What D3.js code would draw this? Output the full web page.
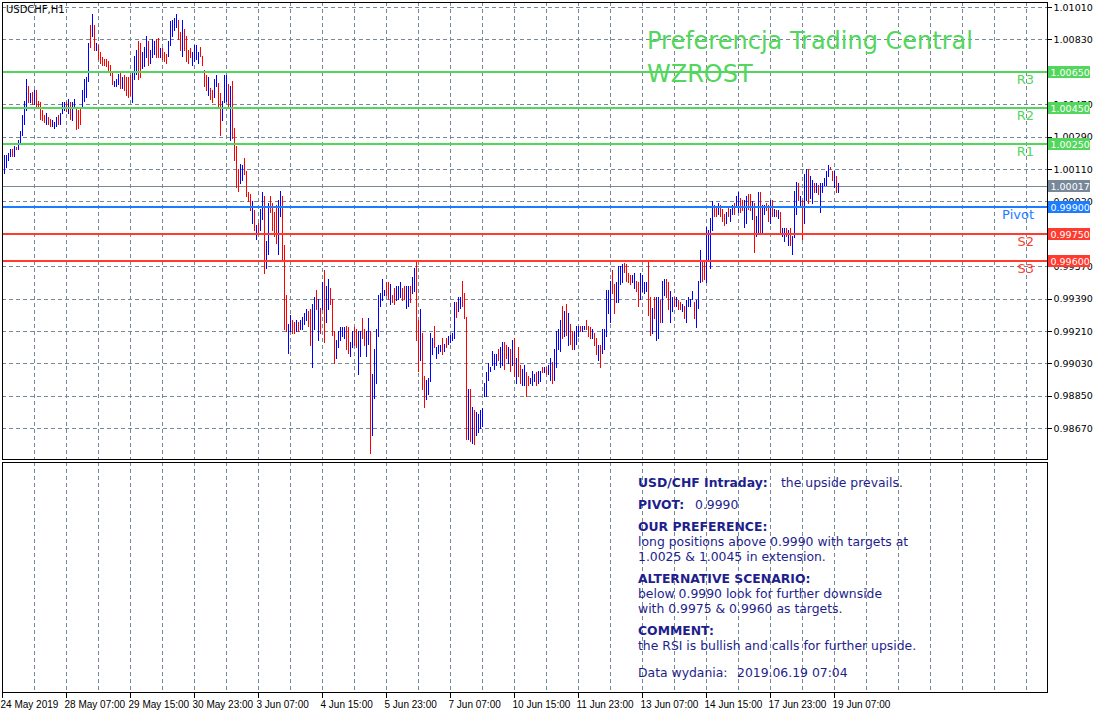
<!DOCTYPE html>
<html><head>
<meta charset="utf-8">
<title>USDCHF H1</title>
<script src="https://cdn.jsdelivr.net/npm/d3@7/dist/d3.min.js"></script>
<style>
  body { margin: 0; background: #fff; }
  svg { display: block; }
  text { font-family: "DejaVu Sans", Verdana, sans-serif; }
  .grid line { stroke: #778899; stroke-dasharray: 4,3; shape-rendering: crispEdges; }
  .axis text { font-size: 9.5px; fill: #000; }
  .axis.time text { font-family: "Liberation Sans", Arial, sans-serif; font-size: 10px; }
  .axis line { stroke: #000; shape-rendering: crispEdges; }
  .axis .domain { display: none; }
</style>
</head>
<body>
<svg id="chart" width="1100" height="713"></svg>

<script>
// hourly bars, 24 May -> 19 Jun 2019, prices in pips (1/10000)
const highPips = [
  10019,10019,10020,10022,10022,10024,10023,10027,10032,10041,
  10049,10061,10057,10053,10054,10055,10055,10049,10048,10044,
  10041,10042,10040,10039,10038,10037,10040,10041,10042,10048,
  10048,10048,10050,10048,10048,10050,10045,10044,10045,10055,
  10061,10062,10081,10091,10097,10091,10081,10080,10076,10073,
  10072,10072,10071,10069,10065,10060,10061,10064,10065,10062,
  10063,10062,10062,10063,10065,10074,10077,10082,10081,10076,
  10079,10085,10082,10077,10083,10082,10083,10084,10078,10078,
  10076,10075,10082,10093,10094,10095,10097,10094,10087,10094,
  10089,10085,10077,10078,10076,10080,10080,10076,10079,10074,
  10066,10063,10062,10056,10055,10061,10063,
  10059,10053,10049,10063,10063,10058,10057,10060,10034,10024,
  10011,10014,10013,10017,10010,9998,9997,9993,9988,9980,
  9981,9989,9998,9996,9971,9992,9996,9992,9987,9991,
  9994,9999,9996,9969,9941,9925,9930,9927,9926,9927,
  9926,9927,9929,9931,9933,9932,9933,9936,9940,9944,
  9939,9934,9948,9955,9946,9950,9945,9939,9921,9916,
  9921,9923,9923,9923,9924,9923,9915,9921,9923,9922,
  9921,9921,9928,9922,9921,9928,9921,9897,9911,9922,
  9941,9942,9950,9944,9948,9948,9947,9941,9945,9946,
  9946,9948,9945,9946,9946,9946,9946,9951,9956,9960,9927,
  9933,9920,9896,9894,9895,9920,9917,9924,9912,9913,
  9913,9917,9914,9917,9918,9919,9920,9937,9937,9940,
  9940,9949,9942,9929,9889,9889,9879,9877,9876,9875,
  9877,9878,9892,9898,9903,9901,9910,9908,9908,9911,
  9912,9915,9915,9913,9912,9911,9916,9917,9906,9912,
  9902,9900,9902,9898,9896,9895,9899,9897,9898,9899,
  9899,9901,9901,9901,9902,9906,9904,9911,9921,9922,
  9927,9935,9932,9936,9931,9925,9921,9921,9924,9924,
  9924,9924,9924,9927,9924,9923,9922,9920,9917,9913,
  9913,9922,9922,9944,9944,9949,9955,9947,9948,9957,
  9957,9958,9959,
  9958,9953,9952,9952,9953,9949,9948,9953,9952,9948,
  9948,9960,9940,9934,9940,9940,9940,9938,9949,9950,
  9950,9948,9943,9940,9940,9940,9938,9937,9936,9935,
  9938,9940,9939,9943,9937,9938,9949,9966,9960,9960,
  9979,9977,9984,9993,9991,9990,9992,9991,9989,9986,
  9987,9990,9989,9991,9992,9996,9998,9995,9994,9994,
  9996,9997,9997,9993,9992,9985,9998,9998,9991,9991,
  9992,9991,9994,9994,9989,9988,9988,9987,9978,9978,
  9978,9977,9978,9974,9999,10004,10003,9996,9994,10008,
  10011,10011,10007,10005,10003,10003,10002,10003,10003,10006,
  10010,10013,10012,10010,10010,10007,10003
];
const lowPips = [
  10009,10012,10016,10018,10018,10018,10022,10022,10026,10030,
  10036,10044,10048,10048,10047,10047,10046,10046,10039,10038,
  10037,10036,10036,10035,10035,10034,10035,10036,10036,10042,
  10044,10043,10042,10039,10038,10045,10033,10034,10036,10045,
  10049,10051,10060,10079,10085,10077,10077,10072,10070,10069,
  10069,10068,10065,10063,10058,10057,10057,10058,10056,10056,
  10055,10052,10051,10052,10048,10061,10064,10061,10062,10067,
  10068,10073,10069,10070,10073,10075,10073,10073,10073,10072,
  10071,10070,10074,10080,10085,10088,10090,10083,10077,10074,
  10077,10071,10070,10073,10069,10071,10072,10070,10074,10069,
  10057,10055,10052,10050,10048,10051,10057,
  10046,10030,10038,10048,10049,10046,10027,10028,10016,10001,
  9999,10003,10005,10008,9996,9993,9988,9981,9977,9972,
  9975,9977,9983,9953,9956,9964,9987,9977,9974,9970,
  9964,9985,9961,9922,9921,9909,9921,9920,9920,9921,
  9921,9922,9922,9925,9927,9924,9913,9901,9922,9933,
  9916,9920,9933,9915,9926,9933,9936,9919,9903,9906,
  9912,9916,9918,9917,9911,9909,9907,9912,9913,9912,
  9897,9907,9917,9913,9907,9914,9853,9863,9884,9892,
  9918,9935,9938,9941,9941,9939,9936,9937,9936,9938,
  9939,9940,9938,9939,9934,9935,9937,9942,9943,9916,9899,
  9905,9889,9879,9883,9886,9893,9908,9912,9906,9909,
  9910,9908,9910,9912,9914,9915,9916,9917,9929,9932,
  9934,9935,9928,9861,9861,9860,9859,9858,9863,9865,
  9867,9868,9885,9885,9894,9899,9902,9900,9902,9905,
  9901,9902,9900,9906,9903,9899,9902,9896,9892,9896,
  9892,9891,9891,9885,9891,9892,9891,9893,9891,9892,
  9893,9898,9898,9897,9897,9894,9892,9894,9901,9911,
  9910,9917,9918,9919,9913,9914,9911,9911,9914,9918,
  9921,9921,9922,9922,9918,9917,9917,9913,9908,9905,
  9901,9909,9911,9918,9931,9926,9942,9931,9937,9937,
  9947,9948,9954,
  9949,9948,9947,9948,9945,9943,9935,9939,9943,9942,
  9943,9930,9919,9920,9928,9916,9917,9926,9926,9941,
  9940,9933,9926,9932,9935,9935,9933,9933,9932,9928,
  9926,9935,9935,9939,9928,9923,9934,9948,9949,9950,
  9948,9960,9956,9977,9985,9985,9986,9985,9982,9980,
  9981,9985,9982,9986,9986,9990,9987,9987,9988,9979,
  9981,9989,9988,9983,9965,9974,9976,9976,9975,9986,
  9988,9982,9981,9985,9985,9985,9984,9975,9974,9971,
  9974,9969,9969,9964,9973,9986,9994,9990,9972,9981,
  9994,9992,9995,9992,9998,9998,9997,9987,9998,10002,
  10002,10007,10011,10005,10001,9998,9998
];
// b = bull bar (blue), r = bear bar (red)
const barDir = (
  "bbbbrbrbbb" + "bbrbrbrrrr" + "rbrrbbbrbb" + "brbrbbrrrb" + "bbbrbrbrrr" +
  "rrrrrbbbrb" + "rrrrbbbrrb" + "bbrbbbrrbr" + "rrbbbbbrrb" + "rrrrbbbbrr" +
  "rrbrrbb" +
  "rrbbbrbrrr" + "rbbrrrrbrb" + "rbbrbbrrrr" + "bbrrrbbrrb" + "rbbbbrrbbr" +
  "brbrbbrrrb" + "bbbbrrbbrr" + "bbrrbbrbbb" + "bbbbrrbrrb" + "bbrrbbrbbrr" +
  "brrbbbbrbb" + "brbrbbbbrb" + "brrrbrbrbb" + "bbbbbbbbbr" + "bbrrbrbrbr" +
  "rbbrrbbbrb" + "brbrbbrbbb" + "brbrbrrbbb" + "rbbrrrbrrb" + "rbbbbbrrbb" +
  "bbr" +
  "rrrbbrrbbb" + "brrbrbbrbb" + "rrbbrbrrbr" + "bbbbrbbbrr" + "bbbbrrbrrr" +
  "brbbrbbrrb" + "brrbrbbrbb" + "rrbrbrbrbb" + "rbrbbbrbrb" + "brbbrbrbbb" +
  "bbrrbrb"
).split("");

const priceTicks = [1.0101, 1.0083, 1.0065, 1.0047, 1.0029, 1.0011, 0.9993,
                    0.9975, 0.9957, 0.9939, 0.9921, 0.9903, 0.9885, 0.9867];
const timeLabels = ["24 May 2019", "28 May 07:00", "29 May 15:00", "30 May 23:00",
  "3 Jun 07:00", "4 Jun 15:00", "5 Jun 23:00", "7 Jun 07:00", "10 Jun 15:00",
  "11 Jun 23:00", "13 Jun 07:00", "14 Jun 15:00", "17 Jun 23:00", "19 Jun 07:00"];

const levelNames = ["R3", "R2", "R1", "Pivot", "S2", "S3"];
const levelValues = [1.0065, 1.0045, 1.0025, 0.9990, 0.9975, 0.9960];
const levelColors = ["#52d65c", "#52d65c", "#52d65c", "#1a7cff", "#ff3b30", "#ff3b30"];
const lastPrice = 1.00017;

const titleLines = ["Preferencja Trading Central", "WZROST"];
const noteHeads = ["USD/CHF Intraday:", "PIVOT:", "OUR PREFERENCE:", "ALTERNATIVE SCENARIO:", "COMMENT:"];
const noteTexts = [
  ["the upside prevails."],
  ["0.9990"],
  ["long positions above 0.9990 with targets at", "1.0025 & 1.0045 in extension."],
  ["below 0.9990 look for further downside", "with 0.9975 & 0.9960 as targets."],
  ["the RSI is bullish and calls for further upside."]
];
const issueLabel = "Data wydania:";
const issueDate = "2019.06.19 07:04";

// ---- layout
const svg = d3.select("#chart");
const main = {left: 2, right: 1047, top: 2, bottom: 459};
const sub = {top: 462, bottom: 692};

// one bar every 2 px
const x = d3.scaleLinear().domain([0, 521.5]).range([4, 1047]);
const y = d3.scaleLinear().domain([0.984994, 1.010383]).range([main.bottom, main.top]);
const crisp = v => Math.round(v) + 0.5;

svg.append("defs").append("clipPath").attr("id", "clipMain")
   .append("rect").attr("x", main.left).attr("y", main.top)
   .attr("width", main.right - main.left).attr("height", main.bottom - main.top);

// gridlines: vertical every 16 bars, horizontal at price ticks
const gridIdx = d3.range(15, 522, 16);
const grid = svg.append("g").attr("class", "grid");
[[main.top, main.bottom], [sub.top, sub.bottom]].forEach(([t, b]) => {
  grid.append("g").selectAll("line").data(gridIdx).join("line")
      .attr("x1", d => crisp(x(d))).attr("x2", d => crisp(x(d)))
      .attr("y1", t).attr("y2", b);
});
grid.append("g").selectAll("line").data(priceTicks).join("line")
    .attr("x1", main.left).attr("x2", main.right)
    .attr("y1", d => crisp(y(d))).attr("y2", d => crisp(y(d)));

// last price line
svg.append("line")
   .attr("x1", main.left).attr("x2", main.right)
   .attr("y1", crisp(y(lastPrice))).attr("y2", crisp(y(lastPrice)))
   .attr("stroke", "#778899").attr("shape-rendering", "crispEdges");

// title
const title = svg.append("g").attr("fill", "#52d65c").style("font-size", "24px");
titleLines.forEach((t, i) => {
  title.append("text").attr("x", 647).attr("y", 49 + i * 33).text(t);
});

// bars
const bars = highPips.map((h, i) => ({i: i, high: h / 10000, low: lowPips[i] / 10000, up: barDir[i] === "b"}));
svg.append("g").attr("clip-path", "url(#clipMain)")
   .selectAll("line").data(bars).join("line")
   .attr("x1", d => crisp(x(d.i))).attr("x2", d => crisp(x(d.i)))
   .attr("y1", d => Math.round(y(d.high)))
   .attr("y2", d => Math.round(y(d.low)) + 1)
   .attr("stroke", d => d.up ? "#0000ff" : "#ff0000")
   .attr("shape-rendering", "crispEdges");

// support / resistance levels
const levels = levelNames.map((n, i) => ({name: n, value: levelValues[i], color: levelColors[i]}));
svg.append("g").selectAll("line").data(levels).join("line")
   .attr("x1", main.left).attr("x2", main.right)
   .attr("y1", d => Math.round(y(d.value))).attr("y2", d => Math.round(y(d.value)))
   .attr("stroke", d => d.color).attr("stroke-width", 2);
svg.append("g").selectAll("text").data(levels).join("text")
   .attr("x", 1034).attr("y", d => Math.round(y(d.value)) + 12)
   .attr("text-anchor", "end")
   .attr("fill", d => d.color)
   .style("font-size", "13px")
   .text(d => d.name);

// frames
svg.append("rect").attr("x", main.left + 0.5).attr("y", main.top + 0.5)
   .attr("width", main.right - main.left).attr("height", main.bottom - main.top)
   .attr("fill", "none").attr("stroke", "#000").attr("shape-rendering", "crispEdges");
svg.append("rect").attr("x", main.left + 0.5).attr("y", sub.top + 0.5)
   .attr("width", main.right - main.left).attr("height", sub.bottom - sub.top)
   .attr("fill", "none").attr("stroke", "#000").attr("shape-rendering", "crispEdges");

// right price axis (labels sitting exactly on a level are hidden by its box)
svg.append("g").attr("class", "axis")
   .attr("transform", "translate(" + (main.right + 0.5) + ",0)")
   .call(d3.axisRight(y).tickValues(priceTicks).tickSize(4).tickPadding(2).tickFormat(d3.format(".5f")))
   .call(g => g.selectAll(".tick text").filter(d => levelValues.includes(d)).remove());

// bottom time axis, one label every 32 bars
const timeIdx = timeLabels.map((t, j) => 32 * j - 1);
svg.append("g").attr("class", "axis time")
   .attr("transform", "translate(0," + (sub.bottom + 0.5) + ")")
   .call(d3.axisBottom(x).tickValues(timeIdx).tickSize(5).tickPadding(3)
           .tickFormat((d, j) => timeLabels[j]))
   .call(g => g.selectAll(".tick line").attr("transform", "translate(-0.5,0)"))
   .call(g => g.selectAll(".tick text").attr("text-anchor", "start").attr("dx", -2));

// price boxes on the axis
const boxes = levels.concat([{name: "last", value: lastPrice, color: "#778899"}]);
const boxG = svg.append("g").selectAll("g").data(boxes).join("g")
   .attr("transform", d => "translate(" + (main.right + 1) + "," + Math.round(y(d.value)) + ")");
boxG.append("rect").attr("x", 0).attr("y", -6).attr("width", 42).attr("height", 12)
    .attr("fill", d => d.color);
boxG.append("text").attr("x", 2.5).attr("y", 3.5).attr("fill", "#fff")
    .style("font-size", "9.5px").text(d => d3.format(".5f")(d.value));

// symbol
svg.append("text").attr("x", 6).attr("y", 13).style("font-size", "10px").text("USDCHF,H1");

// commentary box
const notes = svg.append("g").attr("fill", "#1e1e8c").style("font-size", "12.4px");
const noteX = 638;
const secondX = [781, 695];
let lineY = 487;
noteHeads.forEach((h, i) => {
  notes.append("text").attr("x", noteX).attr("y", lineY).attr("font-weight", "bold").text(h);
  if (i < 2) {
    notes.append("text").attr("x", secondX[i]).attr("y", lineY).text(noteTexts[i][0]);
    lineY += 22;
  } else {
    noteTexts[i].forEach(t => {
      lineY += 15;
      notes.append("text").attr("x", noteX).attr("y", lineY).text(t);
    });
    lineY += 22;
  }
});
notes.append("text").attr("x", noteX).attr("y", lineY + 5).text(issueLabel);
notes.append("text").attr("x", 737).attr("y", lineY + 5).text(issueDate);
</script>
</body>
</html>
